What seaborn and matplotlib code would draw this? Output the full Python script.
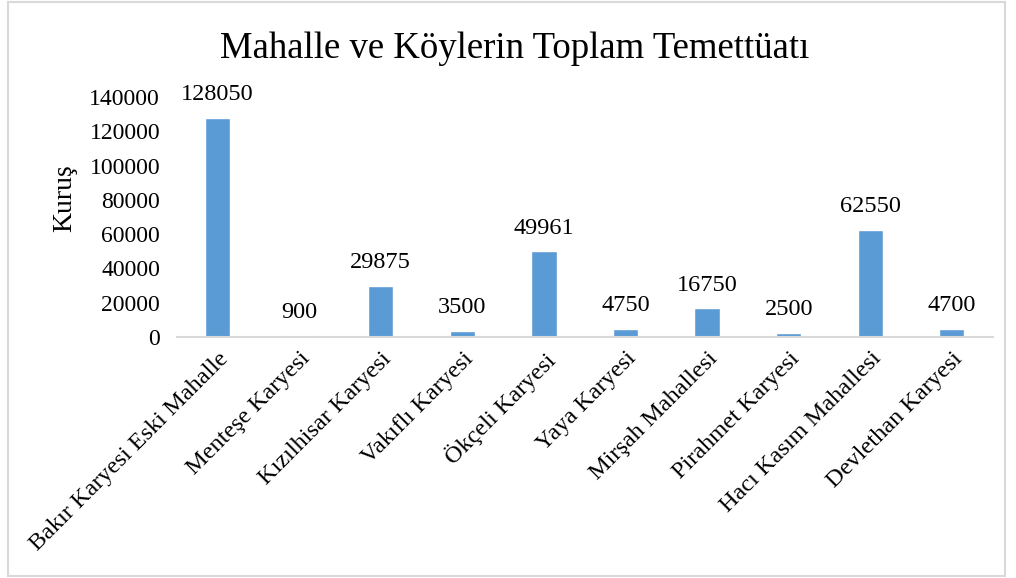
import matplotlib
matplotlib.use("Agg")
import matplotlib.pyplot as plt
import seaborn as sns
import pandas as pd
from matplotlib.patches import Rectangle

# veriler
yerler = ["Bakır Karyesi Eski Mahalle", "Menteşe Karyesi", "Kızılhisar Karyesi",
          "Vakıflı Karyesi", "Ökçeli Karyesi", "Yaya Karyesi", "Mirşah Mahallesi",
          "Pirahmet Karyesi", "Hacı Kasım Mahallesi", "Devlethan Karyesi"]
kurus = [128050, 900, 29875, 3500, 49961, 4750, 16750, 2500, 62550, 4700]
y_ticks = [0, 20000, 40000, 60000, 80000, 100000, 120000, 140000]

df = pd.DataFrame({"yer": yerler, "kurus": kurus})

sns.set_style("white")
plt.rcParams['font.family'] = ['Liberation Serif', 'DejaVu Serif']
plt.rcParams['text.color'] = 'black'
plt.rcParams['axes.labelcolor'] = 'black'
plt.rcParams['xtick.color'] = 'black'
plt.rcParams['ytick.color'] = 'black'

fig = plt.figure(figsize=(10.16, 5.78), dpi=100)
ax = fig.add_axes([0.174, 0.417, 0.803, 0.415])

sns.barplot(data=df, x="yer", y="kurus", color="#5B9BD5", width=0.31,
            saturation=1, ax=ax)

for c in ax.containers:
    ax.bar_label(c, labels=[str(v) for v in kurus], padding=9, fontsize=17.5)

ax.set_ylim(0, 140000)
ax.set_yticks(y_ticks)
ax.set_yticklabels([str(t) for t in y_ticks], fontsize=17)
ax.set_xlim(-0.5, len(yerler) - 0.5)
ax.set_xticks(range(len(yerler)))
ax.set_xticklabels(yerler, rotation=45, ha="right", rotation_mode="anchor", fontsize=17.5)
ax.tick_params(axis="x", length=0, pad=8)
ax.tick_params(axis="y", length=0, pad=12)
ax.set_xlabel("")
ax.set_ylabel("Kuruş", fontsize=20)
ax.yaxis.set_label_coords(-0.122, 0.58)

for s in ["top", "right", "left"]:
    ax.spines[s].set_visible(False)
ax.spines["bottom"].set_color("#D9D9D9")
ax.spines["bottom"].set_linewidth(1.5)

fig.text(0.507, 0.915, "Mahalle ve Köylerin Toplam Temettüatı", ha="center", va="center", fontsize=26.5)

fig.patches.append(Rectangle((8 / 1016, 2 / 578), 997 / 1016, 574 / 578, transform=fig.transFigure,
                             fill=False, edgecolor="#D9D9D9", linewidth=1.5))

fig.savefig("out.png", dpi=100)
